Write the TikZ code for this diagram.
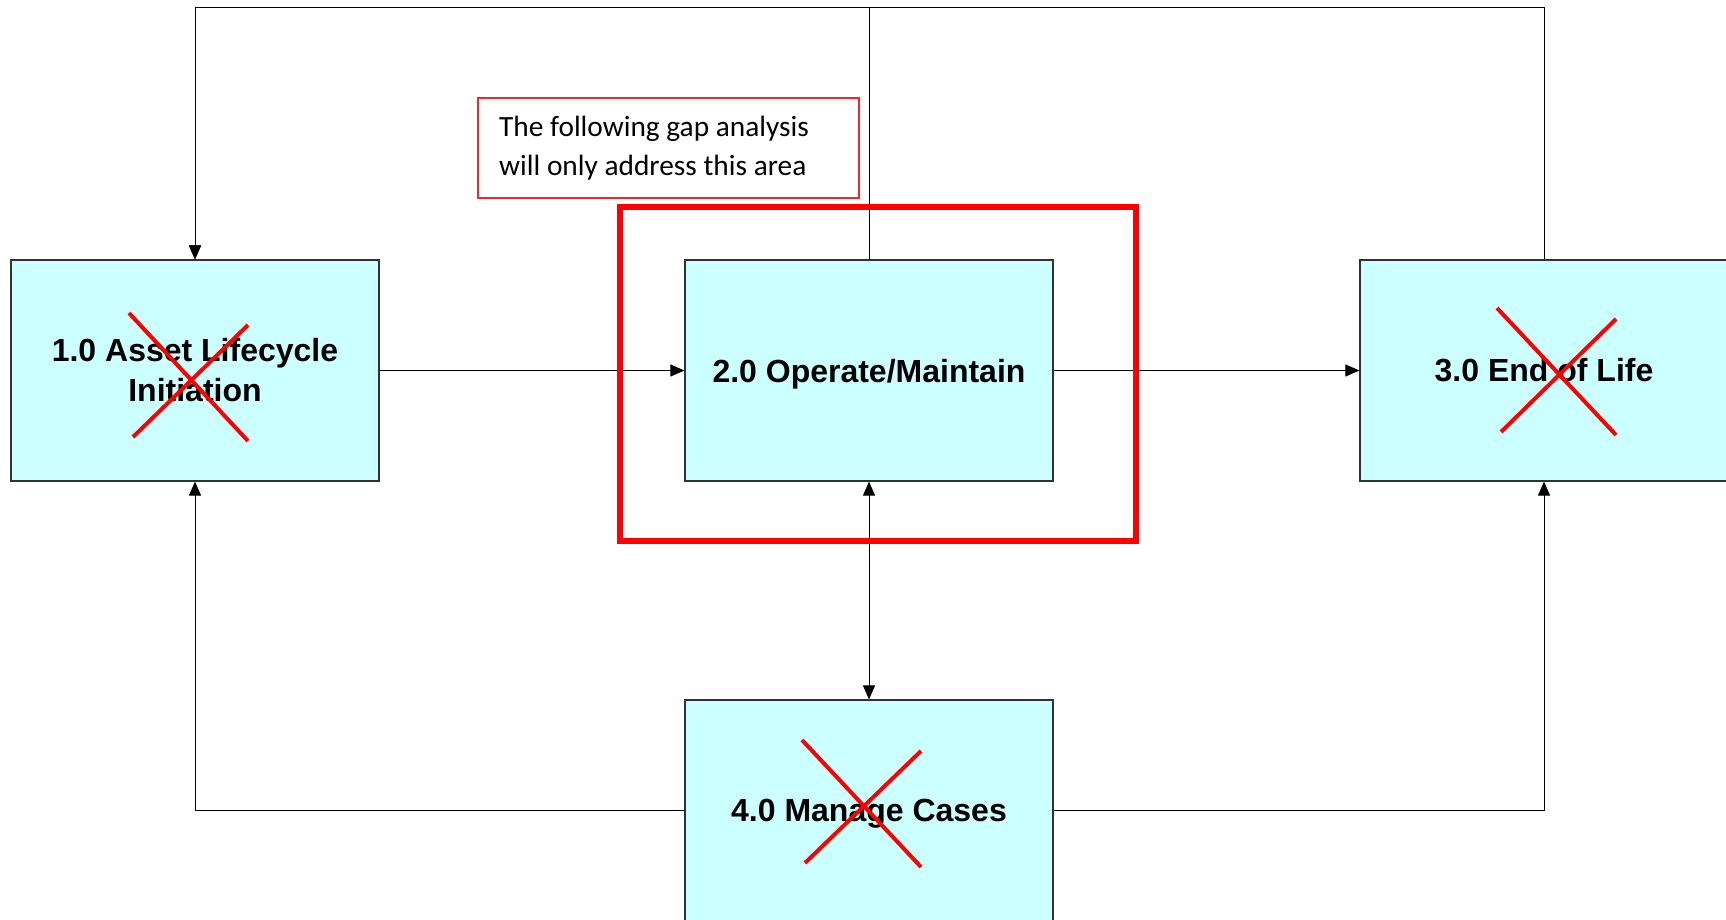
\documentclass[tikz,border=0pt]{standalone}
\usepackage{fontspec}
\setmainfont{Liberation Sans}
\newfontfamily\notefont{Carlito}
\usetikzlibrary{arrows.meta}
\definecolor{boxfill}{RGB}{204,255,255}
\definecolor{boxline}{RGB}{50,50,50}
\definecolor{flagred}{RGB}{255,0,0}
\definecolor{notered}{RGB}{240,40,40}
\begin{document}
\begin{tikzpicture}[
  x=0.75pt, y=-0.75pt,
  process/.style={draw=boxline, line width=0.9pt, fill=boxfill, inner sep=0pt,
    minimum width=276pt, minimum height=165.75pt, align=center,
    font=\bfseries\fontsize{24}{30}\selectfont},
  flow/.style={draw=black, line width=0.75pt, -{Triangle[length=10.5pt,width=9pt]}},
  biflow/.style={draw=black, line width=0.75pt, {Triangle[length=10.5pt,width=9pt]}-{Triangle[length=10.5pt,width=9pt]}},
  strike/.style={draw=flagred, line width=3pt},
  notebox/.style={draw=notered, line width=0.9pt, fill=white, inner sep=0pt,
    minimum width=285.75pt, minimum height=75pt, text width=254pt, align=left,
    font=\notefont\fontsize{22}{29.5}\selectfont,
    execute at begin node={\spaceskip=0.23em\relax}},
  focus/.style={draw=flagred, line width=4.8pt}
]
\useasboundingbox[fill=white] (0,0) rectangle (1726,920);

% process boxes
\node[process] (b1) at (195,370.5) {1.0 Asset Lifecycle\\Initiation};
\node[process, text depth=0pt] (b2) at (869,370.5) {2.0 Operate/Maintain};
\node[process] (b3) at (1544,370.5) {3.0 End of Life};
\node[process, text depth=0pt] (b4) at (869,810.5) {4.0 Manage Cases};

% routing row along the top edge
\coordinate (toprow) at (0,8);

% connectors
\draw[flow] (b1.east) -- (b2.west);
\draw[flow] (b2.east) -- (b3.west);
\draw[biflow] (b2.south) -- (b4.north);
\draw[flow] (b2.north) -- (b2.north |- toprow) -| (b1.north);
\draw[flow] (b3.north) -- (b3.north |- toprow) -| (b1.north);
\draw[flow] (b4.west) -| (b1.south);
\draw[flow] (b4.east) -| (b3.south);

% crossed-out steps
\draw[strike] (129,313) -- (248,441);
\draw[strike] (248,325) -- (133,437);
\draw[strike] (1497,308) -- (1616,435);
\draw[strike] (1616,319) -- (1501,432);
\draw[strike] (802,740) -- (921,867);
\draw[strike] (921,751) -- (805,863);

% scope frame and its note
\draw[focus] (620,207) rectangle (1136,541);
\node[notebox] (note) at (668.5,148) {The following gap analysis\\will only address this area};
\end{tikzpicture}
\end{document}
